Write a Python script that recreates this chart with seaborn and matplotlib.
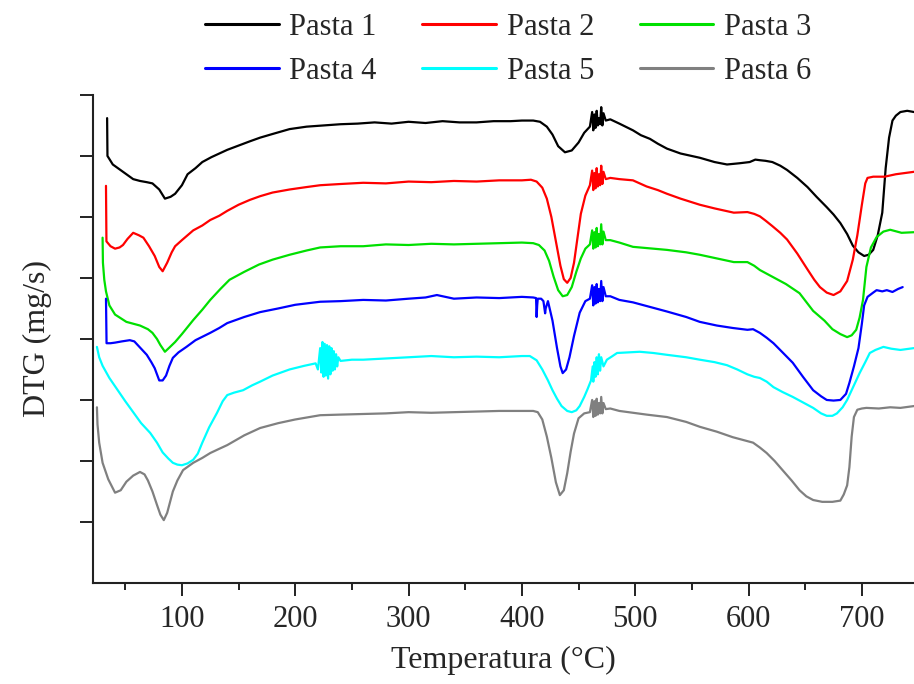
import pandas as pd
import seaborn as sns
import matplotlib.pyplot as plt
from matplotlib.lines import Line2D
from matplotlib.ticker import MultipleLocator

sns.set_theme()
sns.set_style("ticks")
plt.rcParams['font.family'] = ['Liberation Serif', 'DejaVu Serif']

# DTG curves (arbitrary offset units, one y tick = 1), temperatures in °C
temp_p1 = [34, 34.3, 39, 45, 51, 57, 63, 69, 74, 80, 85, 90, 94, 100, 105, 112, 118, 126, 133, 140,
           150, 160, 169, 180, 195, 210, 225, 240, 255, 270, 285, 300, 315, 330, 345, 360, 375, 390,
           400, 410, 416, 422, 427, 432, 438, 444, 450, 455, 460, 462, 463, 464, 465, 466, 467, 468,
           469, 470, 471, 472, 474, 478, 486, 498, 505, 513, 520, 528, 540, 557, 570, 581, 592, 601,
           606, 610, 615, 621, 628, 634, 643, 652, 660, 669, 675, 681, 687, 692, 697, 702, 706, 710,
           714, 718, 721, 724, 727, 730, 734, 740, 746]
dtg_p1 = [7.62, 7.00, 6.86, 6.78, 6.70, 6.62, 6.59, 6.57, 6.55, 6.45, 6.30, 6.33, 6.38, 6.52, 6.70,
          6.80, 6.90, 6.98, 7.04, 7.10, 7.17, 7.24, 7.30, 7.36, 7.44, 7.48, 7.50, 7.52, 7.53, 7.55,
          7.53, 7.56, 7.54, 7.57, 7.55, 7.55, 7.57, 7.57, 7.58, 7.58, 7.56, 7.48, 7.35, 7.16, 7.06,
          7.09, 7.22, 7.38, 7.48, 7.72, 7.42, 7.68, 7.46, 7.74, 7.50, 7.62, 7.52, 7.80, 7.50, 7.70,
          7.58, 7.60, 7.53, 7.42, 7.34, 7.28, 7.20, 7.12, 7.04, 6.97, 6.90, 6.86, 6.88, 6.90, 6.94,
          6.93, 6.92, 6.90, 6.84, 6.77, 6.64, 6.49, 6.33, 6.16, 6.04, 5.90, 5.72, 5.53, 5.42, 5.36,
          5.38, 5.46, 5.70, 6.07, 6.80, 7.30, 7.58, 7.66, 7.72, 7.74, 7.72]

temp_p2 = [33, 33.4, 37, 41, 45, 48, 52, 57, 62, 66, 71, 76, 80, 83, 87, 91, 94, 100, 110, 118, 125,
           133, 140, 150, 160, 169, 180, 195, 210, 222, 240, 260, 280, 300, 320, 340, 360, 380, 400,
           408, 413, 418, 422, 426, 430, 434, 437, 440, 443, 446, 449, 452, 456, 460, 462, 463, 464,
           465, 466, 467, 468, 469, 470, 471, 472, 474, 478, 486, 498, 510, 520, 528, 540, 557, 570,
           587, 599, 605, 610, 615, 621, 628, 634, 643, 652, 658, 663, 669, 675, 681, 687, 692, 696,
           700, 703, 705, 710, 720, 730, 746]
dtg_p2 = [6.51, 5.60, 5.52, 5.48, 5.50, 5.54, 5.64, 5.74, 5.70, 5.66, 5.52, 5.36, 5.18, 5.11, 5.25,
          5.42, 5.52, 5.62, 5.78, 5.86, 5.95, 6.02, 6.10, 6.20, 6.28, 6.34, 6.40, 6.45, 6.49, 6.52,
          6.54, 6.56, 6.55, 6.58, 6.57, 6.59, 6.58, 6.60, 6.60, 6.61, 6.58, 6.48, 6.30, 6.00, 5.60,
          5.20, 4.98, 4.92, 5.00, 5.25, 5.65, 6.05, 6.35, 6.52, 6.76, 6.44, 6.72, 6.47, 6.80, 6.50,
          6.70, 6.52, 6.84, 6.54, 6.74, 6.62, 6.64, 6.62, 6.60, 6.50, 6.44, 6.38, 6.30, 6.20, 6.14,
          6.07, 6.08, 6.05, 6.01, 5.94, 5.85, 5.74, 5.63, 5.40, 5.14, 4.97, 4.85, 4.76, 4.72, 4.78,
          4.95, 5.30, 5.70, 6.20, 6.55, 6.64, 6.66, 6.66, 6.70, 6.74]

temp_p3 = [30, 30.3, 31.5, 33, 36, 41, 46, 51, 57, 63, 70, 74, 78, 81, 85, 89, 94, 100, 110, 118, 125,
           134, 142, 155, 168, 180, 195, 210, 222, 240, 260, 280, 300, 320, 340, 360, 380, 400, 410,
           415, 420, 424, 428, 432, 436, 440, 444, 448, 452, 456, 460, 462, 463, 464, 465, 466, 467,
           468, 469, 470, 471, 472, 474, 478, 486, 498, 510, 528, 545, 557, 572, 587, 599, 605, 610,
           621, 633, 645, 657, 667, 674, 681, 687, 691, 695, 698, 701, 704, 708, 713, 719, 725, 735,
           746]
dtg_p3 = [5.66, 5.25, 4.97, 4.78, 4.55, 4.40, 4.34, 4.28, 4.25, 4.22, 4.16, 4.10, 4.00, 3.90, 3.79,
          3.86, 3.95, 4.08, 4.31, 4.48, 4.64, 4.82, 4.97, 5.10, 5.22, 5.30, 5.38, 5.45, 5.50, 5.52,
          5.52, 5.55, 5.54, 5.56, 5.55, 5.56, 5.57, 5.58, 5.57, 5.54, 5.45, 5.28, 5.02, 4.80, 4.70,
          4.72, 4.85, 5.10, 5.32, 5.48, 5.55, 5.78, 5.48, 5.75, 5.50, 5.82, 5.52, 5.72, 5.55, 5.88,
          5.55, 5.76, 5.62, 5.62, 5.58, 5.51, 5.49, 5.46, 5.42, 5.38, 5.32, 5.26, 5.26, 5.20, 5.13,
          5.02, 4.90, 4.75, 4.46, 4.30, 4.16, 4.08, 4.03, 4.06, 4.15, 4.35, 4.64, 5.18, 5.50, 5.67,
          5.76, 5.79, 5.74, 5.75]

temp_p4 = [33, 33.5, 37, 41, 47, 54, 58, 61, 65, 69, 73, 76, 80, 83, 86, 89, 92, 97, 104, 112, 125,
           133, 140, 155, 169, 185, 200, 222, 240, 260, 280, 300, 315, 325, 330, 340, 360, 380, 400,
           410, 412.5, 413, 413.5, 414, 417, 419, 420.5, 421, 423, 427, 431, 434, 436, 439, 442, 446,
           451, 456, 460, 462, 463, 464, 465, 466, 467, 468, 469, 470, 471, 472, 474, 478, 486, 498,
           510, 528, 545, 557, 572, 586, 599, 604, 610, 616, 622, 630, 639, 648, 657, 664, 669, 675,
           681, 686, 689, 693, 697, 700, 702, 705, 710, 713, 718, 722, 727, 732, 736]
dtg_p4 = [4.66, 3.93, 3.93, 3.94, 3.96, 3.98, 3.96, 3.90, 3.82, 3.74, 3.62, 3.52, 3.32, 3.32, 3.40,
          3.56, 3.69, 3.78, 3.87, 3.98, 4.10, 4.18, 4.26, 4.36, 4.44, 4.50, 4.56, 4.61, 4.62, 4.64,
          4.63, 4.66, 4.68, 4.72, 4.70, 4.66, 4.68, 4.67, 4.69, 4.68, 4.67, 4.36, 4.55, 4.66, 4.66,
          4.62, 4.42, 4.50, 4.62, 4.30, 3.85, 3.55, 3.44, 3.50, 3.70, 4.05, 4.43, 4.62, 4.66, 4.88,
          4.55, 4.85, 4.58, 4.90, 4.60, 4.82, 4.62, 4.95, 4.62, 4.85, 4.70, 4.70, 4.64, 4.60, 4.54,
          4.45, 4.36, 4.28, 4.22, 4.18, 4.15, 4.16, 4.10, 4.02, 3.93, 3.78, 3.61, 3.38, 3.16, 3.06,
          3.00, 2.99, 3.00, 3.10, 3.28, 3.55, 3.85, 4.25, 4.55, 4.69, 4.76, 4.80, 4.78, 4.80, 4.77,
          4.82, 4.85]

temp_p5 = [25, 27, 30, 36, 43, 50, 57, 64, 72, 78, 83, 88, 92, 96, 100, 105, 110, 114, 118, 124, 131,
           136, 140, 146, 154, 162, 169, 180, 195, 208, 218, 220, 222, 223, 224, 225, 226, 227, 228,
           229, 230, 231, 232, 233, 234, 235, 236, 237, 238, 240, 250, 260, 280, 300, 320, 340, 360,
           380, 400, 407, 413, 418, 423, 427, 431, 435, 440, 444, 448, 451, 455, 458, 461, 462.5, 463,
           464, 465, 466, 467, 468, 469, 470, 472, 475, 480, 484, 494, 504, 516, 528, 545, 557, 570,
           581, 590, 599, 605, 610, 616, 622, 630, 639, 648, 657, 664, 669, 674, 678, 683, 687, 692,
           698, 703, 707, 712, 719, 726, 734, 746]
dtg_p5 = [3.87, 3.70, 3.56, 3.36, 3.17, 2.98, 2.80, 2.62, 2.46, 2.30, 2.14, 2.04, 1.97, 1.94, 1.93,
          1.96, 2.02, 2.12, 2.30, 2.55, 2.79, 2.98, 3.08, 3.12, 3.16, 3.24, 3.30, 3.40, 3.50, 3.56,
          3.60, 3.50, 3.85, 3.45, 3.95, 3.38, 3.92, 3.40, 3.90, 3.35, 3.88, 3.42, 3.85, 3.48, 3.80,
          3.50, 3.75, 3.55, 3.70, 3.64, 3.66, 3.66, 3.68, 3.70, 3.72, 3.70, 3.71, 3.70, 3.72, 3.72,
          3.65, 3.50, 3.32, 3.16, 3.02, 2.90, 2.82, 2.80, 2.83, 2.90, 3.05, 3.18, 3.32, 3.55, 3.30,
          3.62, 3.38, 3.70, 3.42, 3.75, 3.48, 3.70, 3.55, 3.66, 3.72, 3.77, 3.78, 3.79, 3.77, 3.74,
          3.70, 3.66, 3.62, 3.57, 3.50, 3.42, 3.38, 3.36, 3.30, 3.21, 3.13, 3.05, 2.96, 2.87, 2.78,
          2.74, 2.74, 2.78, 2.88, 3.00, 3.20, 3.44, 3.62, 3.77, 3.82, 3.87, 3.84, 3.82, 3.85]

temp_p6 = [25, 25.5, 27, 30, 35, 41, 46, 51, 57, 63, 67, 70, 74, 78, 81, 84, 87, 92, 96, 101, 110, 118,
           125, 133, 140, 155, 169, 185, 200, 222, 240, 260, 280, 300, 320, 340, 360, 380, 400, 410,
           414, 418, 422, 426, 430, 433.5, 437, 440, 443, 446, 450, 455, 460, 462, 463, 464, 465, 466,
           467, 468, 469, 470, 471, 472, 474, 478, 486, 498, 510, 528, 545, 557, 572, 586, 596, 604,
           610, 616, 623, 630, 638, 645, 651, 657, 665, 674, 681, 684, 687, 689, 691, 693, 696, 700,
           704, 715, 725, 734, 746]
dtg_p6 = [2.88, 2.60, 2.30, 1.97, 1.70, 1.48, 1.52, 1.66, 1.76, 1.82, 1.78, 1.68, 1.50, 1.28, 1.12,
          1.03, 1.15, 1.50, 1.68, 1.85, 1.97, 2.05, 2.13, 2.20, 2.26, 2.42, 2.54, 2.62, 2.68, 2.75,
          2.76, 2.77, 2.78, 2.80, 2.79, 2.80, 2.81, 2.82, 2.82, 2.82, 2.80, 2.68, 2.40, 2.05, 1.65,
          1.44, 1.52, 1.80, 2.15, 2.45, 2.70, 2.78, 2.80, 3.00, 2.72, 2.98, 2.74, 3.02, 2.76, 2.95,
          2.78, 3.05, 2.78, 2.95, 2.85, 2.86, 2.82, 2.79, 2.76, 2.72, 2.64, 2.56, 2.48, 2.39, 2.34,
          2.30, 2.22, 2.13, 2.00, 1.85, 1.68, 1.52, 1.42, 1.36, 1.33, 1.33, 1.35, 1.45, 1.60, 1.90,
          2.40, 2.72, 2.84, 2.86, 2.87, 2.86, 2.88, 2.87, 2.90]

labels = ['Pasta 1', 'Pasta 2', 'Pasta 3', 'Pasta 4', 'Pasta 5', 'Pasta 6']
colors = ['#000000', '#ff0000', '#00e000', '#0000ff', '#00ffff', '#808080']

temps = [temp_p1, temp_p2, temp_p3, temp_p4, temp_p5, temp_p6]
dtgs = [dtg_p1, dtg_p2, dtg_p3, dtg_p4, dtg_p5, dtg_p6]
frames = [pd.DataFrame({'temp': t, 'dtg': d, 'amostra': lab})
          for t, d, lab in zip(temps, dtgs, labels)]
df = pd.concat(frames, ignore_index=True)

fig = plt.figure(figsize=(9.14, 6.84), dpi=100)
ax = fig.add_axes([0.1017, 0.1477, 0.8983, 0.7135])

sns.lineplot(data=df, x='temp', y='dtg', hue='amostra', hue_order=labels,
             palette=colors, estimator=None, sort=False, linewidth=1.6,
             legend=False, ax=ax)

ax.set_xlim(21.5, 746)
ax.set_ylim(0, 8)
ax.xaxis.set_major_locator(MultipleLocator(100))
ax.xaxis.set_minor_locator(MultipleLocator(50))
ax.set_yticks(range(1, 9))
ax.set_yticklabels([])
ax.tick_params(axis='both', which='major', direction='out', length=9.5, width=1.4,
               color='#222222', labelsize=22, pad=6)
ax.tick_params(axis='x', which='minor', direction='out', length=5, width=1.4, color='#222222')
ax.tick_params(axis='y', which='major', left=True)

for side in ['top', 'right']:
    ax.spines[side].set_visible(False)
for side in ['left', 'bottom']:
    ax.spines[side].set_linewidth(1.5)
    ax.spines[side].set_color('#222222')

ax.set_xlabel('Temperatura (°C)', fontsize=23, labelpad=9)
ax.set_ylabel('DTG (mg/s)', fontsize=23, labelpad=14)

# legend ordered so rows read 1-2-3 / 4-5-6
order = [0, 3, 1, 4, 2, 5]
handles = [Line2D([], [], color=colors[i], linewidth=2.2) for i in order]
fig.legend(handles, [labels[i] for i in order], ncol=3, loc='center',
           bbox_to_anchor=(0.556, 0.928), frameon=False, fontsize=22,
           handlelength=2.4, handletextpad=0.35, columnspacing=1.5,
           labelspacing=0.5, borderpad=0.2)

fig.savefig('out.png', dpi=100)
